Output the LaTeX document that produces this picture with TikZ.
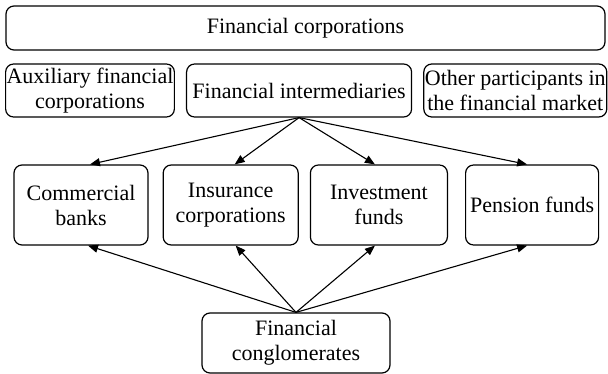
\documentclass[tikz,border=0pt]{standalone}
\usepackage{fontspec}
\setmainfont{Liberation Serif}
\usetikzlibrary{positioning,arrows.meta}

\begin{document}
\begin{tikzpicture}[x=1pt, y=1pt, node distance=11pt,
  main/.style={draw, rounded corners=8pt, line width=1.2pt, align=center, inner sep=1pt, font=\fontsize{22}{25}\selectfont},
  link/.style={line width=1.1pt, -{Triangle[length=10pt,width=8pt]}}]
		\useasboundingbox (0,0) rectangle (608,-374);

		\node[main, minimum width=599pt, minimum height=44pt] (fc) at (305.5,-28) {Financial corporations};
		\node[main, minimum width=168pt, minimum height=53pt] (afc) at (90,-90.5) {Auxiliary financial\\corporations};
		\node[main, minimum width=225pt, minimum height=53pt] (fi) [right=of afc] {Financial intermediaries};
		\node[main, minimum width=183pt, minimum height=53pt] (opfm) [right=of fi] {Other participants in\\the financial market};

		\node[main, minimum width=134pt, minimum height=80pt] (cb) at (81,-205) {Commercial\\banks};
		\node[main, minimum width=135pt, minimum height=80pt] (ic) [right=14pt of cb] {Insurance\\corporations};
		\node[main, minimum width=137pt, minimum height=80pt] (inv) [right=of ic] {Investment\\funds};
		\node[main, minimum width=133pt, minimum height=80pt] (pf) [right=17pt of inv] {Pension funds};

		\node[main, minimum width=188pt, minimum height=60pt] (fcg) at (296,-343) {Financial\\conglomerates};

		\draw[link] (fi.south) -- ([xshift=9pt]cb.north);
		\draw[link] (fi.south) -- ([xshift=4pt]ic.north);
		\draw[link] (fi.south) -- ([xshift=-4pt]inv.north);
		\draw[link] (fi.south) -- ([xshift=-5pt]pf.north);
		\draw[link] (fcg.north) -- ([xshift=7pt]cb.south);
		\draw[link] (fcg.north) -- ([xshift=5pt]ic.south);
		\draw[link] (fcg.north) -- ([xshift=-4pt]inv.south);
		\draw[link] (fcg.north) -- ([xshift=-5pt]pf.south);
	\end{tikzpicture}
\end{document}
